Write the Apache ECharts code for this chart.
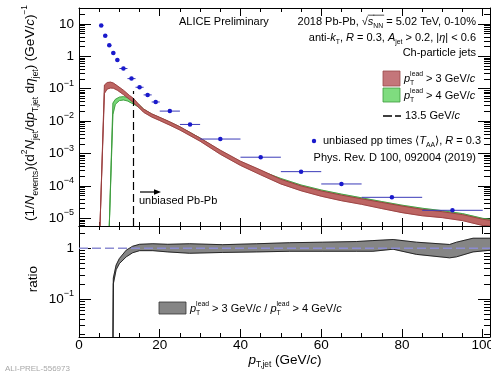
<!DOCTYPE html>
<html>
<head>
<meta charset="utf-8">
<script src="https://cdn.jsdelivr.net/npm/echarts@6/dist/echarts.min.js"></script>
<style>
  html, body { margin: 0; padding: 0; background: #fff; }
  #chart { width: 491px; height: 372px; }
</style>
</head>
<body>
<div id="chart"></div>
<script>
// unbiased pp times <TAA>, R = 0.3 (bin edges and values)
const ppLo = [5, 6, 7, 8, 9, 10, 12, 14, 16, 18, 20, 25, 30, 40, 50, 60, 70, 85];
const ppHi = [6, 7, 8, 9, 10, 12, 14, 16, 18, 20, 25, 30, 40, 50, 60, 70, 85, 100];
const ppY = [8.9, 4.3, 2.2, 1.27, 0.77, 0.42, 0.205, 0.111, 0.0645, 0.039, 0.0204, 0.0079, 0.0028, 7.7e-4, 2.76e-4, 1.15e-4, 4.45e-5, 1.77e-5];

// pT lead > 3 GeV/c band
const redX = [5.2, 6.3, 7.0, 7.8, 8.5, 9.5, 11, 12.5, 13.5, 15, 16, 18, 20, 22.5, 25, 30, 35, 40, 45, 50, 55, 60, 65, 70, 75, 80, 85, 90, 95, 100, 102];
const redLo = [5e-6, 0.072, 0.098, 0.105, 0.104, 0.09, 0.066, 0.047, 0.037, 0.025, 0.0187, 0.0134, 0.0104, 0.0075, 0.0053, 0.0024, 9.5e-4, 4.3e-4, 2.2e-4, 1.15e-4, 7.1e-5, 4.8e-5, 3.5e-5, 2.7e-5, 2.0e-5, 1.5e-5, 1.2e-5, 1.05e-5, 8.5e-6, 6.0e-6, 5.6e-6];
const redHi = [5e-6, 0.13, 0.155, 0.16, 0.15, 0.123, 0.09, 0.062, 0.05, 0.031, 0.0235, 0.0168, 0.0131, 0.0095, 0.0067, 0.003, 1.27e-3, 5.8e-4, 3.1e-4, 1.6e-4, 1.0e-4, 7.0e-5, 5.2e-5, 4.0e-5, 3.1e-5, 2.4e-5, 1.9e-5, 1.6e-5, 1.3e-5, 9.4e-6, 8.7e-6];

// pT lead > 4 GeV/c band
const grnX = [7.5, 8.4, 9.0, 10, 11, 12, 13, 13.5, 15, 16, 18, 20, 22.5, 25, 30, 35, 40, 45, 50, 55, 60, 65, 70, 75, 80, 85, 90, 95, 100, 102];
const grnLo = [5e-6, 0.016, 0.033, 0.043, 0.045, 0.042, 0.036, 0.034, 0.026, 0.02, 0.0142, 0.0111, 0.008, 0.0057, 0.0026, 1.05e-3, 4.8e-4, 2.5e-4, 1.4e-4, 8.8e-5, 6.2e-5, 4.6e-5, 3.6e-5, 2.7e-5, 2.1e-5, 1.7e-5, 1.45e-5, 1.15e-5, 8.4e-6, 7.8e-6];
const grnHi = [5e-6, 0.036, 0.047, 0.055, 0.057, 0.054, 0.047, 0.044, 0.031, 0.0235, 0.0165, 0.0128, 0.0093, 0.0066, 0.003, 1.2e-3, 5.5e-4, 2.9e-4, 1.7e-4, 1.07e-4, 7.5e-5, 5.6e-5, 4.3e-5, 3.3e-5, 2.55e-5, 2.05e-5, 1.72e-5, 1.4e-5, 1.0e-5, 9.3e-6];

// ratio pT lead > 3 / pT lead > 4
const ratX = [8.42, 8.5, 9.2, 10, 11.7, 13.3, 15, 18.3, 22, 27.4, 35.6, 43.9, 52.2, 60.4, 68.7, 72.8, 77.8, 83.6, 91.8, 93.5, 97.6, 102];
const ratLo = [0.017, 0.2, 0.38, 0.5, 0.68, 0.82, 0.9, 0.9, 0.85, 0.8, 0.83, 0.85, 0.875, 0.875, 0.875, 0.875, 0.96, 0.76, 0.65, 0.68, 0.85, 0.915];
const ratHi = [0.017, 0.26, 0.47, 0.63, 0.92, 1.1, 1.2, 1.23, 1.2, 1.23, 1.18, 1.23, 1.29, 1.32, 1.36, 1.42, 1.49, 1.32, 1.19, 1.32, 1.58, 1.58];

// leading-track bias cut
const cutX = 13.5;
const cutTop = 0.085;

const X_MAX = 101.8;
const Y_TOP = [5.8e-6, 31];
const Y_RAT = [0.018, 2.75];

const FONT = '"Liberation Sans", Arial, Helvetica, sans-serif';
const mctx = document.createElement('canvas').getContext('2d');
function fontOf(size, it) { return (it ? 'italic ' : '') + size + 'px ' + FONT; }
function measure(s, size, it) { mctx.font = fontOf(size, it); return mctx.measureText(s).width; }

// parts: [text, flags]; flags: i italic, b subscript, p superscript, h stack with next, o overline
function richLine(parts, size, color) {
    const els = [];
    let x = 0, held = 0;
    parts.forEach(([t, f = '']) => {
        const small = f.includes('b') || f.includes('p');
        const fs = small ? size * 0.62 : size;
        const it = f.includes('i');
        const w = measure(t, fs, it);
        const dy = f.includes('b') ? size * 0.38 : f.includes('p') ? -size * 0.42 : 0;
        els.push({ type: 'text', x: x, y: dy, style: { text: t, font: fontOf(fs, it), fill: color, align: 'left', verticalAlign: 'middle' } });
        if (f.includes('o')) {
            els.push({ type: 'line', shape: { x1: x, y1: -size * 0.62, x2: x + w + 1, y2: -size * 0.62 }, style: { stroke: color, lineWidth: 0.7 } });
        }
        if (f.includes('h')) { held = Math.max(held, w); }
        else { x += Math.max(w, held); held = 0; }
    });
    return { els, width: x };
}
function label(x, y, parts, opt = {}) {
    const r = richLine(parts, opt.size || 11, opt.color || '#000');
    const ox = opt.align === 'right' ? -r.width : opt.align === 'center' ? -r.width / 2 : 0;
    r.els.forEach(e => {
        if (e.type === 'line') { e.shape.x1 += ox; e.shape.x2 += ox; } else { e.x += ox; }
    });
    return { type: 'group', x: x, y: y, rotation: opt.rot || 0, children: r.els, silent: true };
}

function minorVals(lo, hi) {
    const out = [];
    for (let e = -7; e <= 2; e++) {
        for (let m = 2; m <= 9; m++) {
            const v = m * Math.pow(10, e);
            if (v > lo && v < hi) out.push(v);
        }
    }
    return out;
}

function logLabel(v) {
    const e = Math.round(Math.log10(v));
    if (e === 1) return '10';
    if (e === 0) return '1';
    return '{b|10}{s|' + (e < 0 ? '\u2212' : '') + Math.abs(e) + '}';
}

const black = { color: '#000', width: 1 };
function xAx(grid, pos, labels) {
    return {
        type: 'value', gridIndex: grid, position: pos, min: 0, max: X_MAX, interval: 20,
        axisLine: { show: true, onZero: false, lineStyle: black },
        axisTick: { show: true, inside: true, length: 8, lineStyle: black },
        minorTick: { show: true, splitNumber: 4, length: 4, lineStyle: black },
        splitLine: { show: false }, minorSplitLine: { show: false },
        axisLabel: { show: labels, showMaxLabel: false, color: '#000', fontFamily: FONT, fontSize: 13.5, margin: 1 }
    };
}
function yAx(grid, pos, range, split, labels, minor) {
    return {
        type: 'log', logBase: 10, gridIndex: grid, position: pos, min: range[0], max: range[1], splitNumber: split,
        axisLine: { show: !minor, onZero: false, lineStyle: black },
        axisTick: minor
            ? { show: true, inside: true, length: 6, lineStyle: black, customValues: minorVals(range[0], range[1]) }
            : { show: true, inside: true, length: 12, lineStyle: black },
        splitLine: { show: false },
        axisLabel: {
            show: labels, showMinLabel: false, showMaxLabel: false, margin: 5,
            color: '#000', fontFamily: FONT, fontSize: 13.5, formatter: logLabel,
            rich: {
                b: { fontFamily: FONT, fontSize: 13.5, lineHeight: 20, color: '#000' },
                s: { fontFamily: FONT, fontSize: 9, lineHeight: 9, verticalAlign: 'top', color: '#000' }
            }
        }
    };
}

function band(xIdx, yIdx, xs, lo, hi, fill, edge, z) {
    return {
        type: 'custom', xAxisIndex: xIdx, yAxisIndex: yIdx, clip: true, z: z, silent: true,
        data: xs.map((x, i) => [x, lo[i], hi[i]]),
        encode: { x: 0, y: [1, 2] },
        renderItem: function (params, api) {
            if (params.dataIndex !== 0) return null;
            const cs = params.coordSys;
            const rect = { x: cs.x, y: cs.y, width: cs.width, height: cs.height };
            const up = echarts.graphic.clipPointsByRect(xs.map((x, i) => api.coord([x, hi[i]])), rect);
            const dn = echarts.graphic.clipPointsByRect(xs.map((x, i) => api.coord([x, lo[i]])), rect);
            return {
                type: 'group', children: [
                    { type: 'polygon', shape: { points: up.concat(dn.slice().reverse()) }, style: { fill: fill, stroke: fill, lineWidth: 0.5 } },
                    { type: 'polyline', shape: { points: up }, style: { stroke: edge, fill: null, lineWidth: 0.9 } },
                    { type: 'polyline', shape: { points: dn }, style: { stroke: edge, fill: null, lineWidth: 0.9 } }
                ]
            };
        }
    };
}

const chart = echarts.init(document.getElementById('chart'), null, { renderer: 'canvas' });

const graphics = [
    label(179, 22, [['ALICE Preliminary']]),
    label(476, 22, [['2018 Pb-Pb, '], ['\u221A'], ['s', 'io'], ['NN', 'bo'], [' = 5.02 TeV, 0-10%']], { align: 'right' }),
    label(476, 38, [['anti-'], ['k', 'i'], ['T', 'b'], [', '], ['R', 'i'], [' = 0.3, '], ['A', 'i'], ['jet', 'b'], [' > 0.2, |'], ['\u03B7', 'i'], ['| < 0.6']], { align: 'right' }),
    label(476, 53, [['Ch-particle jets']], { align: 'right' }),
    { type: 'rect', shape: { x: 383, y: 71, width: 17, height: 15 }, style: { fill: '#c4767a', stroke: '#9a4a4a', lineWidth: 0.8 } },
    label(404, 79, [['p', 'i'], ['lead', 'ph'], ['T', 'b'], [' > 3 GeV/'], ['c', 'i']]),
    { type: 'rect', shape: { x: 383, y: 88, width: 17, height: 14 }, style: { fill: '#7fdc7f', stroke: '#3c9a3c', lineWidth: 0.8 } },
    label(404, 96, [['p', 'i'], ['lead', 'ph'], ['T', 'b'], [' > 4 GeV/'], ['c', 'i']]),
    { type: 'line', shape: { x1: 383, y1: 116, x2: 401, y2: 116 }, style: { stroke: '#000', lineWidth: 1.4, lineDash: [9, 3] } },
    label(405, 116, [['13.5 GeV/'], ['c', 'i']]),
    { type: 'circle', shape: { cx: 314, cy: 141, r: 2.2 }, style: { fill: '#1a1acc' } },
    label(323, 141, [['unbiased pp times \u27E8'], ['T', 'i'], ['AA', 'b'], ['\u27E9, '], ['R', 'i'], [' = 0.3']]),
    label(476, 158, [['Phys. Rev. D 100, 092004 (2019)']], { align: 'right' }),
    { type: 'line', shape: { x1: 140, y1: 192, x2: 155, y2: 192 }, style: { stroke: '#000', lineWidth: 1.2 } },
    { type: 'polygon', shape: { points: [[161, 192], [154, 189.3], [154, 194.7]] }, style: { fill: '#000' } },
    label(139, 201, [['unbiased Pb-Pb']]),
    { type: 'rect', shape: { x: 159, y: 302, width: 27, height: 12 }, style: { fill: '#858585', stroke: '#333', lineWidth: 0.8 } },
    label(190, 309, [['p', 'i'], ['lead', 'ph'], ['T', 'b'], [' > 3 GeV/'], ['c', 'i'], [' / '], ['p', 'i'], ['lead', 'ph'], ['T', 'b'], [' > 4 GeV/'], ['c', 'i']]),
    label(30.5, 113, [['(1/'], ['N', 'i'], ['events', 'b'], [')(d'], ['2', 'p'], ['N', 'i'], ['jet', 'b'], ['/d'], ['p', 'i'], ['T,jet', 'b'], [' d'], ['\u03B7', 'i'], ['jet', 'b'], [') (GeV/'], ['c', 'i'], [')'], ['\u22121', 'p']], { size: 13.5, align: 'center', rot: Math.PI / 2 }),
    label(33, 279, [['ratio']], { size: 13.5, align: 'center', rot: Math.PI / 2 }),
    label(285, 360, [['p', 'i'], ['T,jet', 'b'], [' (GeV/'], ['c', 'i'], [')']], { size: 13.5, align: 'center' }),
    label(5, 369, [['ALI-PREL-556973']], { size: 8, color: '#a8a8a8' })
];

chart.setOption({
    animation: false,
    backgroundColor: '#fff',
    grid: [
        { left: 79, top: 8, width: 411, height: 218, outerBoundsMode: 'none', containLabel: false },
        { left: 79, top: 226, width: 411, height: 111, outerBoundsMode: 'none', containLabel: false }
    ],
    xAxis: [xAx(0, 'bottom', false), xAx(0, 'top', false), xAx(1, 'bottom', true), xAx(1, 'top', false)],
    yAxis: [
        yAx(0, 'left', Y_TOP, 7, true, false),
        yAx(0, 'left', Y_TOP, 7, false, true),
        yAx(0, 'right', Y_TOP, 7, false, false),
        yAx(0, 'right', Y_TOP, 7, false, true),
        yAx(1, 'left', Y_RAT, 2, true, false),
        yAx(1, 'left', Y_RAT, 2, false, true),
        yAx(1, 'right', Y_RAT, 2, false, false),
        yAx(1, 'right', Y_RAT, 2, false, true)
    ],
    series: [
        band(0, 0, grnX, grnLo, grnHi, '#79d879', '#3c9a3c', 2),
        band(0, 0, redX, redLo, redHi, '#bd6563', '#963c3c', 3),
        {
            type: 'line', xAxisIndex: 0, yAxisIndex: 0, z: 4, symbol: 'none', silent: true,
            data: [[cutX, Y_TOP[0]], [cutX, cutTop]],
            lineStyle: { color: '#000', width: 1.2, type: [8, 4] }
        },
        {
            type: 'custom', xAxisIndex: 0, yAxisIndex: 0, z: 5, silent: true,
            data: ppY.map((y, i) => [ppLo[i], ppHi[i], y]),
            encode: { x: [0, 1], y: 2 },
            renderItem: function (params, api) {
                const a = api.coord([api.value(0), api.value(2)]);
                const b = api.coord([api.value(1), api.value(2)]);
                return { type: 'line', shape: { x1: a[0], y1: a[1], x2: b[0], y2: b[1] }, style: { stroke: '#3a3ab8', lineWidth: 1 } };
            }
        },
        {
            type: 'scatter', xAxisIndex: 0, yAxisIndex: 0, z: 6, silent: true,
            symbol: 'circle', symbolSize: 4.5,
            data: ppY.map((y, i) => [(ppLo[i] + ppHi[i]) / 2, y]),
            itemStyle: { color: '#1a1acc', opacity: 1 }
        },
        band(2, 4, ratX, ratLo, ratHi, '#858585', '#1a1a1a', 2),
        {
            type: 'line', xAxisIndex: 2, yAxisIndex: 4, z: 4, symbol: 'none', silent: true,
            data: [[0, 1], [X_MAX, 1]],
            lineStyle: { color: '#8c8cd2', width: 1.5, type: [9, 4] }
        }
    ],
    graphic: graphics
});
</script>
</body>
</html>
